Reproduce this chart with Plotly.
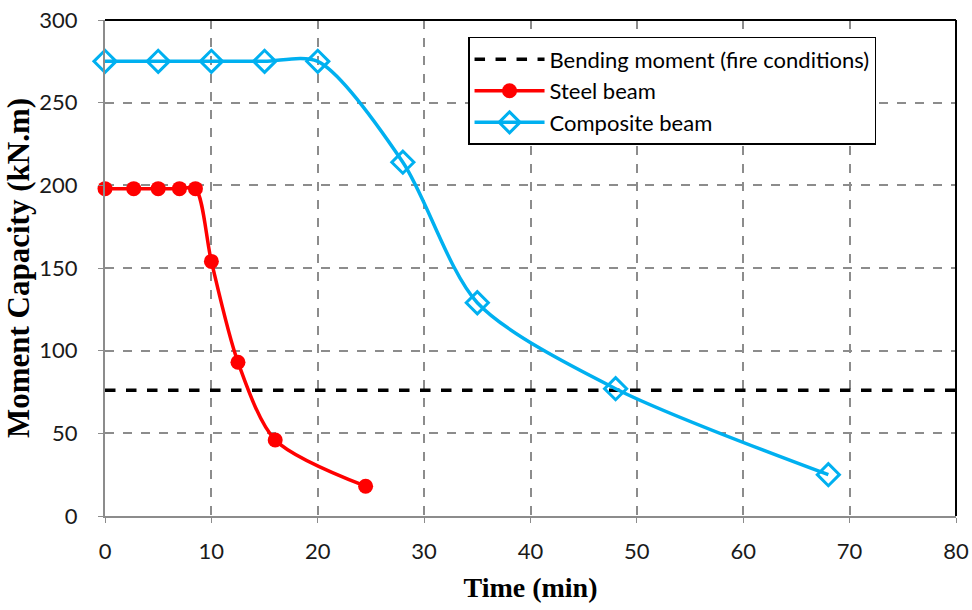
import plotly.graph_objects as go

steel_x = [0, 2.7, 5, 7, 8.5, 10, 12.5, 16, 24.5]
steel_y = [198, 198, 198, 198, 198, 154, 93, 46, 18]
comp_x = [0, 5, 10, 15, 20, 28, 35, 48, 68]
comp_y = [275, 275, 275, 275, 275, 214, 129, 77, 25]
bend_x = [0, 80]
bend_y = [76, 76]

fig = go.Figure()
fig.add_trace(go.Scatter(x=bend_x, y=bend_y, mode="lines", name="Bending moment (fire conditions)",
                         line=dict(color="black", width=3.5, dash="dash"), cliponaxis=False))
fig.add_trace(go.Scatter(x=steel_x, y=steel_y, mode="lines+markers", name="Steel beam",
                         line=dict(color="#FF0000", width=3.5, shape="spline", smoothing=0.8),
                         marker=dict(symbol="circle", size=15, color="#FF0000"), cliponaxis=False))
fig.add_trace(go.Scatter(x=comp_x, y=comp_y, mode="lines+markers", name="Composite beam",
                         line=dict(color="#00B0F0", width=3.5, shape="spline", smoothing=0.8),
                         marker=dict(symbol="diamond-open", size=17, color="#00B0F0", line=dict(width=3)),
                         cliponaxis=False))

grid = dict(showgrid=True, gridcolor="#8c8c8c", gridwidth=1.5, griddash="dash")
tickfont = dict(family="Lato", size=22, color="#1a1a1a")
fig.update_xaxes(range=[0, 80], dtick=10, **grid, showline=True, linecolor="#8c8c8c", linewidth=2,
                 ticks="outside", ticklen=5, tickcolor="#8c8c8c", zeroline=False, automargin=False,
                 tickfont=tickfont, ticklabelstandoff=10,
                 title=dict(text="<b>Time (min)</b>", font=dict(family="Liberation Serif", size=28, color="black"), standoff=14))
fig.update_yaxes(range=[0, 300], dtick=50, **grid, showline=True, linecolor="#8c8c8c", linewidth=2,
                 ticks="outside", ticklen=5, tickcolor="#8c8c8c", zeroline=False, automargin=False,
                 tickfont=tickfont, ticklabelstandoff=16,
                 title=dict(text="<b>Moment Capacity (kN.m)</b>", font=dict(family="Liberation Serif", size=31, color="black"), standoff=0))

fig.update_layout(
    width=972, height=610,
    margin=dict(l=105, r=16, t=20, b=94),
    plot_bgcolor="white", paper_bgcolor="white",
    legend=dict(x=0.4266, y=0.966, xanchor="left", yanchor="top", bordercolor="black", borderwidth=1.5,
                bgcolor="white", font=dict(family="Lato", size=22, color="black"), itemwidth=70,
                tracegroupgap=0),
    shapes=[dict(type="line", xref="paper", yref="paper", x0=0, x1=1, y0=1, y1=1, line=dict(color="black", width=2)),
            dict(type="line", xref="paper", yref="paper", x0=1, x1=1, y0=0, y1=1, line=dict(color="black", width=2))],
    showlegend=True,
)
fig.write_html("out.html", post_script="document.body.style.margin='0';", config={"displayModeBar": False})
